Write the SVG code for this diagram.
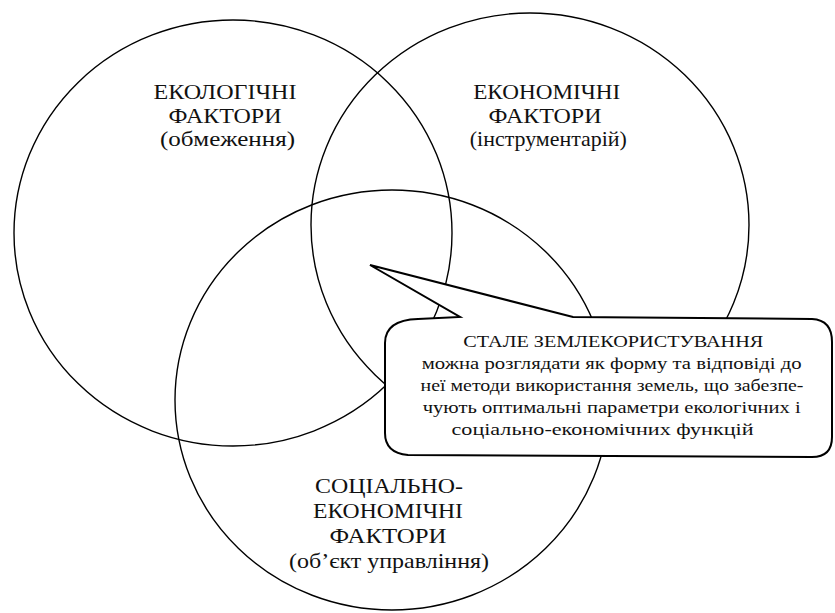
<svg xmlns="http://www.w3.org/2000/svg" width="835" height="613" viewBox="0 0 835 613">
<rect width="835" height="613" fill="#fff"/>
<g id="ecological">
<ellipse cx="233" cy="233" rx="219" ry="213" fill="none" stroke="#000" stroke-width="1.4"/>
<text font-family="Liberation Serif" style="font-family:'Liberation Serif',serif !important" font-size="21.5" fill="#111" text-anchor="middle" x="225" y="99" textLength="143" lengthAdjust="spacingAndGlyphs">ЕКОЛОГІЧНІ</text>
<text font-family="Liberation Serif" style="font-family:'Liberation Serif',serif !important" font-size="21.5" fill="#111" text-anchor="middle" x="225" y="123" textLength="113" lengthAdjust="spacingAndGlyphs">ФАКТОРИ</text>
<text font-family="Liberation Serif" style="font-family:'Liberation Serif',serif !important" font-size="21.5" fill="#111" text-anchor="middle" x="227.5" y="146" textLength="135" lengthAdjust="spacingAndGlyphs">(обмеження)</text>
</g>
<g id="economic">
<ellipse cx="530" cy="225" rx="219" ry="212" fill="none" stroke="#000" stroke-width="1.4"/>
<text font-family="Liberation Serif" style="font-family:'Liberation Serif',serif !important" font-size="21.5" fill="#111" text-anchor="middle" x="546.7" y="99" textLength="147" lengthAdjust="spacingAndGlyphs">ЕКОНОМІЧНІ</text>
<text font-family="Liberation Serif" style="font-family:'Liberation Serif',serif !important" font-size="21.5" fill="#111" text-anchor="middle" x="545" y="123" textLength="113" lengthAdjust="spacingAndGlyphs">ФАКТОРИ</text>
<text font-family="Liberation Serif" style="font-family:'Liberation Serif',serif !important" font-size="21.5" fill="#111" text-anchor="middle" x="548.3" y="146" textLength="157" lengthAdjust="spacingAndGlyphs">(інструментарій)</text>
</g>
<g id="socioeconomic">
<ellipse cx="392" cy="400" rx="217" ry="210" fill="none" stroke="#000" stroke-width="1.4"/>
<text font-family="Liberation Serif" style="font-family:'Liberation Serif',serif !important" font-size="21.5" fill="#111" text-anchor="middle" x="389" y="493" textLength="148" lengthAdjust="spacingAndGlyphs">СОЦІАЛЬНО-</text>
<text font-family="Liberation Serif" style="font-family:'Liberation Serif',serif !important" font-size="21.5" fill="#111" text-anchor="middle" x="388" y="518" textLength="150" lengthAdjust="spacingAndGlyphs">ЕКОНОМІЧНІ</text>
<text font-family="Liberation Serif" style="font-family:'Liberation Serif',serif !important" font-size="21.5" fill="#111" text-anchor="middle" x="388" y="543" textLength="117" lengthAdjust="spacingAndGlyphs">ФАКТОРИ</text>
<text font-family="Liberation Serif" style="font-family:'Liberation Serif',serif !important" font-size="21.5" fill="#111" text-anchor="middle" x="389" y="568" textLength="200" lengthAdjust="spacingAndGlyphs">(об’єкт управління)</text>
</g>
<g id="callout">
<path d="M418,319 L460,317 L370,265 L573,317 L812,319 Q832,320 832,342 L832,437 Q832,457 812,457 L408,455 Q385,453 385,433 L385,343 Q385,320 418,319 Z" fill="#fff" stroke="#000" stroke-width="2"/>
<text font-family="Liberation Serif" style="font-family:'Liberation Serif',serif !important" font-size="17" fill="#111" text-anchor="middle" x="613.3" y="347" textLength="300" lengthAdjust="spacingAndGlyphs">СТАЛЕ ЗЕМЛЕКОРИСТУВАННЯ</text>
<text font-family="Liberation Serif" style="font-family:'Liberation Serif',serif !important" font-size="17" fill="#111" text-anchor="middle" x="611.7" y="369" textLength="380" lengthAdjust="spacingAndGlyphs">можна розглядати як форму та відповіді до</text>
<text font-family="Liberation Serif" style="font-family:'Liberation Serif',serif !important" font-size="17" fill="#111" text-anchor="middle" x="612" y="391" textLength="383" lengthAdjust="spacingAndGlyphs">неї методи використання земель, що забезпе-</text>
<text font-family="Liberation Serif" style="font-family:'Liberation Serif',serif !important" font-size="17" fill="#111" text-anchor="middle" x="611.7" y="413" textLength="378" lengthAdjust="spacingAndGlyphs">чують оптимальні параметри екологічних і</text>
<text font-family="Liberation Serif" style="font-family:'Liberation Serif',serif !important" font-size="17" fill="#111" text-anchor="middle" x="602.5" y="435" textLength="302" lengthAdjust="spacingAndGlyphs">соціально-економічних функцій</text>
</g>
</svg>
